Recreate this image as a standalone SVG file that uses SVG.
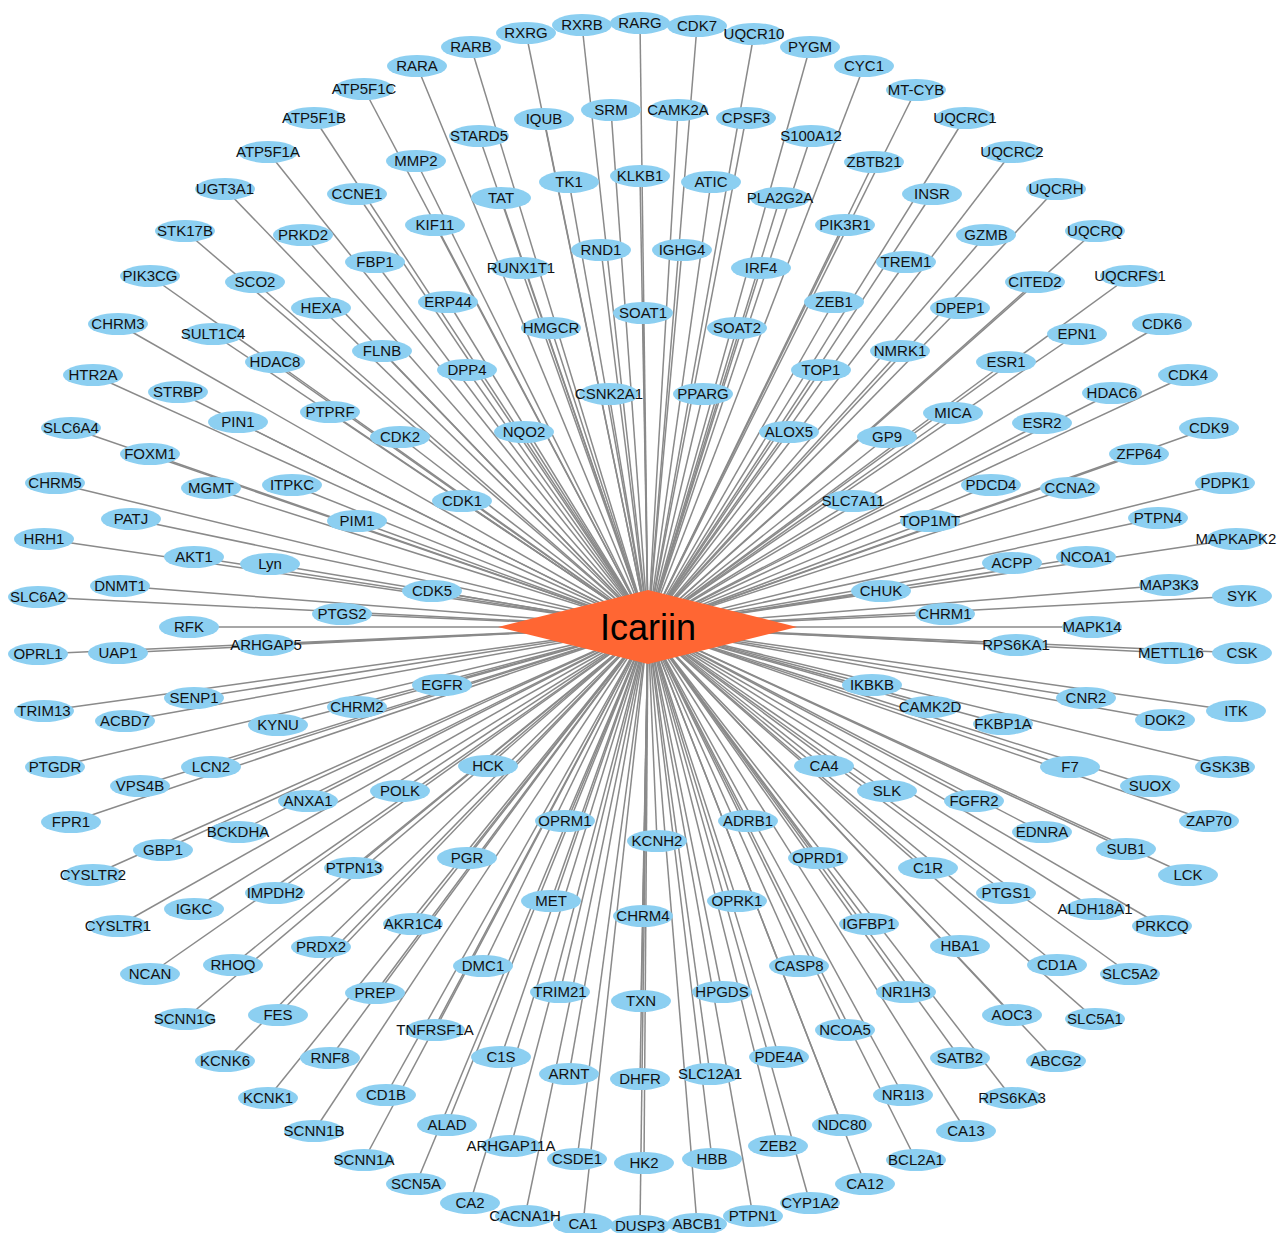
<svg xmlns="http://www.w3.org/2000/svg" width="1279" height="1233" viewBox="0 0 1279 1233">
<style>
.e line{stroke:#8a8a8a;stroke-width:1.5}
.n ellipse{fill:#8ccff1;rx:30px;ry:11px}
.n text{font-family:"Liberation Sans",Arial,sans-serif;font-size:15px;text-anchor:middle;fill:#111}
.hub text{font-family:"Liberation Sans",Arial,sans-serif;font-size:36px;text-anchor:middle;fill:#000}
</style>
<rect width="1279" height="1233" fill="#fff"/>
<g id="edges" class="e">
<line x1="648" y1="627" x2="417" y2="66"/><line x1="648" y1="627" x2="471" y2="47"/><line x1="648" y1="627" x2="526" y2="33"/><line x1="648" y1="627" x2="582" y2="25"/><line x1="648" y1="627" x2="640" y2="23"/><line x1="648" y1="627" x2="697" y2="26"/><line x1="648" y1="627" x2="754" y2="34"/><line x1="648" y1="627" x2="810" y2="47"/><line x1="648" y1="627" x2="864" y2="66"/><line x1="648" y1="627" x2="916" y2="90"/><line x1="648" y1="627" x2="965" y2="118"/><line x1="648" y1="627" x2="1012" y2="152"/><line x1="648" y1="627" x2="1056" y2="189"/><line x1="648" y1="627" x2="1095" y2="231"/><line x1="648" y1="627" x2="1130" y2="276"/><line x1="648" y1="627" x2="1162" y2="324"/><line x1="648" y1="627" x2="1188" y2="375"/><line x1="648" y1="627" x2="1209" y2="428"/><line x1="648" y1="627" x2="1225" y2="483"/><line x1="648" y1="627" x2="1236" y2="539"/><line x1="648" y1="627" x2="1242" y2="596"/><line x1="648" y1="627" x2="1242" y2="653"/><line x1="648" y1="627" x2="1236" y2="711"/><line x1="648" y1="627" x2="1225" y2="767"/><line x1="648" y1="627" x2="1209" y2="821"/><line x1="648" y1="627" x2="1188" y2="875"/><line x1="648" y1="627" x2="1162" y2="926"/><line x1="648" y1="627" x2="1130" y2="974"/><line x1="648" y1="627" x2="1095" y2="1019"/><line x1="648" y1="627" x2="1056" y2="1061"/><line x1="648" y1="627" x2="1012" y2="1098"/><line x1="648" y1="627" x2="966" y2="1131"/><line x1="648" y1="627" x2="916" y2="1160"/><line x1="648" y1="627" x2="865" y2="1184"/><line x1="648" y1="627" x2="810" y2="1203"/><line x1="648" y1="627" x2="753" y2="1216"/><line x1="648" y1="627" x2="697" y2="1224"/><line x1="648" y1="627" x2="640" y2="1226"/><line x1="648" y1="627" x2="583" y2="1224"/><line x1="648" y1="627" x2="525" y2="1216"/><line x1="648" y1="627" x2="470" y2="1203"/><line x1="648" y1="627" x2="416" y2="1184"/><line x1="648" y1="627" x2="364" y2="1160"/><line x1="648" y1="627" x2="314" y2="1131"/><line x1="648" y1="627" x2="268" y2="1098"/><line x1="648" y1="627" x2="225" y2="1061"/><line x1="648" y1="627" x2="185" y2="1019"/><line x1="648" y1="627" x2="150" y2="974"/><line x1="648" y1="627" x2="118" y2="926"/><line x1="648" y1="627" x2="93" y2="875"/><line x1="648" y1="627" x2="71" y2="822"/><line x1="648" y1="627" x2="55" y2="767"/><line x1="648" y1="627" x2="44" y2="711"/><line x1="648" y1="627" x2="38" y2="654"/><line x1="648" y1="627" x2="38" y2="597"/><line x1="648" y1="627" x2="44" y2="539"/><line x1="648" y1="627" x2="55" y2="483"/><line x1="648" y1="627" x2="71" y2="428"/><line x1="648" y1="627" x2="93" y2="375"/><line x1="648" y1="627" x2="118" y2="324"/><line x1="648" y1="627" x2="150" y2="276"/><line x1="648" y1="627" x2="185" y2="231"/><line x1="648" y1="627" x2="225" y2="189"/><line x1="648" y1="627" x2="268" y2="152"/><line x1="648" y1="627" x2="314" y2="118"/><line x1="648" y1="627" x2="364" y2="89"/>
<line x1="648" y1="627" x2="416" y2="161"/><line x1="648" y1="627" x2="357" y2="194"/><line x1="648" y1="627" x2="435" y2="225"/><line x1="648" y1="627" x2="303" y2="235"/><line x1="648" y1="627" x2="375" y2="262"/><line x1="648" y1="627" x2="255" y2="282"/><line x1="648" y1="627" x2="321" y2="308"/><line x1="648" y1="627" x2="448" y2="302"/><line x1="648" y1="627" x2="213" y2="334"/><line x1="648" y1="627" x2="382" y2="351"/><line x1="648" y1="627" x2="275" y2="362"/><line x1="648" y1="627" x2="467" y2="370"/><line x1="648" y1="627" x2="178" y2="392"/><line x1="648" y1="627" x2="330" y2="412"/><line x1="648" y1="627" x2="238" y2="422"/><line x1="648" y1="627" x2="400" y2="437"/><line x1="648" y1="627" x2="524" y2="432"/><line x1="648" y1="627" x2="150" y2="454"/><line x1="648" y1="627" x2="211" y2="488"/><line x1="648" y1="627" x2="292" y2="485"/><line x1="648" y1="627" x2="357" y2="521"/><line x1="648" y1="627" x2="462" y2="501"/><line x1="648" y1="627" x2="131" y2="519"/><line x1="648" y1="627" x2="194" y2="557"/><line x1="648" y1="627" x2="270" y2="564"/><line x1="648" y1="627" x2="120" y2="586"/><line x1="648" y1="627" x2="432" y2="591"/><line x1="648" y1="627" x2="342" y2="614"/><line x1="648" y1="627" x2="189" y2="627"/><line x1="648" y1="627" x2="266" y2="645"/><line x1="648" y1="627" x2="118" y2="653"/>
<line x1="648" y1="627" x2="479" y2="136"/><line x1="648" y1="627" x2="544" y2="119"/><line x1="648" y1="627" x2="611" y2="110"/><line x1="648" y1="627" x2="678" y2="110"/><line x1="648" y1="627" x2="746" y2="118"/><line x1="648" y1="627" x2="811" y2="136"/><line x1="648" y1="627" x2="501" y2="198"/><line x1="648" y1="627" x2="569" y2="182"/><line x1="648" y1="627" x2="640" y2="176"/><line x1="648" y1="627" x2="711" y2="182"/><line x1="648" y1="627" x2="780" y2="198"/><line x1="648" y1="627" x2="521" y2="268"/><line x1="648" y1="627" x2="601" y2="250"/><line x1="648" y1="627" x2="682" y2="250"/><line x1="648" y1="627" x2="761" y2="268"/><line x1="648" y1="627" x2="551" y2="328"/><line x1="648" y1="627" x2="643" y2="313"/><line x1="648" y1="627" x2="737" y2="328"/><line x1="648" y1="627" x2="609" y2="394"/><line x1="648" y1="627" x2="703" y2="394"/>
<line x1="648" y1="627" x2="874" y2="162"/><line x1="648" y1="627" x2="845" y2="225"/><line x1="648" y1="627" x2="932" y2="194"/><line x1="648" y1="627" x2="906" y2="262"/><line x1="648" y1="627" x2="986" y2="235"/><line x1="648" y1="627" x2="834" y2="302"/><line x1="648" y1="627" x2="960" y2="308"/><line x1="648" y1="627" x2="1035" y2="282"/><line x1="648" y1="627" x2="900" y2="351"/><line x1="648" y1="627" x2="821" y2="370"/><line x1="648" y1="627" x2="1077" y2="334"/><line x1="648" y1="627" x2="1006" y2="362"/><line x1="648" y1="627" x2="789" y2="432"/><line x1="648" y1="627" x2="953" y2="413"/><line x1="648" y1="627" x2="1112" y2="393"/><line x1="648" y1="627" x2="1042" y2="423"/><line x1="648" y1="627" x2="887" y2="437"/><line x1="648" y1="627" x2="1139" y2="454"/><line x1="648" y1="627" x2="853" y2="501"/><line x1="648" y1="627" x2="991" y2="485"/><line x1="648" y1="627" x2="1070" y2="488"/><line x1="648" y1="627" x2="930" y2="521"/><line x1="648" y1="627" x2="1158" y2="518"/><line x1="648" y1="627" x2="1012" y2="563"/><line x1="648" y1="627" x2="1086" y2="557"/><line x1="648" y1="627" x2="881" y2="591"/><line x1="648" y1="627" x2="1169" y2="585"/><line x1="648" y1="627" x2="945" y2="614"/><line x1="648" y1="627" x2="1092" y2="627"/><line x1="648" y1="627" x2="1016" y2="645"/><line x1="648" y1="627" x2="1171" y2="653"/>
<line x1="648" y1="627" x2="872" y2="685"/><line x1="648" y1="627" x2="1086" y2="698"/><line x1="648" y1="627" x2="930" y2="707"/><line x1="648" y1="627" x2="1003" y2="724"/><line x1="648" y1="627" x2="1165" y2="720"/><line x1="648" y1="627" x2="1070" y2="767"/><line x1="648" y1="627" x2="1150" y2="786"/><line x1="648" y1="627" x2="824" y2="766"/><line x1="648" y1="627" x2="887" y2="791"/><line x1="648" y1="627" x2="974" y2="801"/><line x1="648" y1="627" x2="1042" y2="832"/><line x1="648" y1="627" x2="1126" y2="849"/><line x1="648" y1="627" x2="748" y2="821"/><line x1="648" y1="627" x2="818" y2="858"/><line x1="648" y1="627" x2="928" y2="868"/><line x1="648" y1="627" x2="1006" y2="893"/><line x1="648" y1="627" x2="1095" y2="909"/><line x1="648" y1="627" x2="869" y2="924"/><line x1="648" y1="627" x2="960" y2="946"/><line x1="648" y1="627" x2="1057" y2="965"/><line x1="648" y1="627" x2="906" y2="992"/><line x1="648" y1="627" x2="1012" y2="1015"/><line x1="648" y1="627" x2="737" y2="901"/><line x1="648" y1="627" x2="799" y2="966"/><line x1="648" y1="627" x2="845" y2="1030"/><line x1="648" y1="627" x2="960" y2="1058"/><line x1="648" y1="627" x2="903" y2="1095"/><line x1="648" y1="627" x2="842" y2="1125"/><line x1="648" y1="627" x2="779" y2="1057"/><line x1="648" y1="627" x2="778" y2="1146"/><line x1="648" y1="627" x2="712" y2="1159"/><line x1="648" y1="627" x2="722" y2="992"/><line x1="648" y1="627" x2="710" y2="1074"/>
<line x1="648" y1="627" x2="657" y2="841"/><line x1="648" y1="627" x2="565" y2="821"/><line x1="648" y1="627" x2="467" y2="858"/><line x1="648" y1="627" x2="551" y2="901"/><line x1="648" y1="627" x2="643" y2="916"/><line x1="648" y1="627" x2="483" y2="966"/><line x1="648" y1="627" x2="560" y2="992"/><line x1="648" y1="627" x2="641" y2="1001"/><line x1="648" y1="627" x2="501" y2="1057"/><line x1="648" y1="627" x2="569" y2="1074"/><line x1="648" y1="627" x2="640" y2="1079"/><line x1="648" y1="627" x2="447" y2="1125"/><line x1="648" y1="627" x2="511" y2="1146"/><line x1="648" y1="627" x2="577" y2="1159"/><line x1="648" y1="627" x2="644" y2="1163"/><line x1="648" y1="627" x2="435" y2="1030"/>
<line x1="648" y1="627" x2="442" y2="685"/><line x1="648" y1="627" x2="194" y2="698"/><line x1="648" y1="627" x2="357" y2="707"/><line x1="648" y1="627" x2="125" y2="721"/><line x1="648" y1="627" x2="278" y2="725"/><line x1="648" y1="627" x2="211" y2="767"/><line x1="648" y1="627" x2="140" y2="786"/><line x1="648" y1="627" x2="488" y2="766"/><line x1="648" y1="627" x2="308" y2="801"/><line x1="648" y1="627" x2="400" y2="791"/><line x1="648" y1="627" x2="238" y2="832"/><line x1="648" y1="627" x2="163" y2="850"/><line x1="648" y1="627" x2="354" y2="868"/><line x1="648" y1="627" x2="275" y2="893"/><line x1="648" y1="627" x2="194" y2="909"/><line x1="648" y1="627" x2="413" y2="924"/><line x1="648" y1="627" x2="321" y2="947"/><line x1="648" y1="627" x2="233" y2="965"/><line x1="648" y1="627" x2="375" y2="993"/><line x1="648" y1="627" x2="278" y2="1015"/><line x1="648" y1="627" x2="330" y2="1058"/><line x1="648" y1="627" x2="386" y2="1095"/>
</g>
<g id="nodes">
<g id="n-RARA" class="n"><ellipse cx="417" cy="66"/><text x="417" y="71">RARA</text></g>
<g id="n-RARB" class="n"><ellipse cx="471" cy="47"/><text x="471" y="52">RARB</text></g>
<g id="n-RXRG" class="n"><ellipse cx="526" cy="33"/><text x="526" y="38">RXRG</text></g>
<g id="n-RXRB" class="n"><ellipse cx="582" cy="25"/><text x="582" y="30">RXRB</text></g>
<g id="n-RARG" class="n"><ellipse cx="640" cy="23"/><text x="640" y="28">RARG</text></g>
<g id="n-CDK7" class="n"><ellipse cx="697" cy="26"/><text x="697" y="31">CDK7</text></g>
<g id="n-UQCR10" class="n"><ellipse cx="754" cy="34"/><text x="754" y="39">UQCR10</text></g>
<g id="n-PYGM" class="n"><ellipse cx="810" cy="47"/><text x="810" y="52">PYGM</text></g>
<g id="n-CYC1" class="n"><ellipse cx="864" cy="66"/><text x="864" y="71">CYC1</text></g>
<g id="n-MT-CYB" class="n"><ellipse cx="916" cy="90"/><text x="916" y="95">MT-CYB</text></g>
<g id="n-UQCRC1" class="n"><ellipse cx="965" cy="118"/><text x="965" y="123">UQCRC1</text></g>
<g id="n-UQCRC2" class="n"><ellipse cx="1012" cy="152"/><text x="1012" y="157">UQCRC2</text></g>
<g id="n-UQCRH" class="n"><ellipse cx="1056" cy="189"/><text x="1056" y="194">UQCRH</text></g>
<g id="n-UQCRQ" class="n"><ellipse cx="1095" cy="231"/><text x="1095" y="236">UQCRQ</text></g>
<g id="n-UQCRFS1" class="n"><ellipse cx="1130" cy="276"/><text x="1130" y="281">UQCRFS1</text></g>
<g id="n-CDK6" class="n"><ellipse cx="1162" cy="324"/><text x="1162" y="329">CDK6</text></g>
<g id="n-CDK4" class="n"><ellipse cx="1188" cy="375"/><text x="1188" y="380">CDK4</text></g>
<g id="n-CDK9" class="n"><ellipse cx="1209" cy="428"/><text x="1209" y="433">CDK9</text></g>
<g id="n-PDPK1" class="n"><ellipse cx="1225" cy="483"/><text x="1225" y="488">PDPK1</text></g>
<g id="n-MAPKAPK2" class="n"><ellipse cx="1236" cy="539"/><text x="1236" y="544">MAPKAPK2</text></g>
<g id="n-SYK" class="n"><ellipse cx="1242" cy="596"/><text x="1242" y="601">SYK</text></g>
<g id="n-CSK" class="n"><ellipse cx="1242" cy="653"/><text x="1242" y="658">CSK</text></g>
<g id="n-ITK" class="n"><ellipse cx="1236" cy="711"/><text x="1236" y="716">ITK</text></g>
<g id="n-GSK3B" class="n"><ellipse cx="1225" cy="767"/><text x="1225" y="772">GSK3B</text></g>
<g id="n-ZAP70" class="n"><ellipse cx="1209" cy="821"/><text x="1209" y="826">ZAP70</text></g>
<g id="n-LCK" class="n"><ellipse cx="1188" cy="875"/><text x="1188" y="880">LCK</text></g>
<g id="n-PRKCQ" class="n"><ellipse cx="1162" cy="926"/><text x="1162" y="931">PRKCQ</text></g>
<g id="n-SLC5A2" class="n"><ellipse cx="1130" cy="974"/><text x="1130" y="979">SLC5A2</text></g>
<g id="n-SLC5A1" class="n"><ellipse cx="1095" cy="1019"/><text x="1095" y="1024">SLC5A1</text></g>
<g id="n-ABCG2" class="n"><ellipse cx="1056" cy="1061"/><text x="1056" y="1066">ABCG2</text></g>
<g id="n-RPS6KA3" class="n"><ellipse cx="1012" cy="1098"/><text x="1012" y="1103">RPS6KA3</text></g>
<g id="n-CA13" class="n"><ellipse cx="966" cy="1131"/><text x="966" y="1136">CA13</text></g>
<g id="n-BCL2A1" class="n"><ellipse cx="916" cy="1160"/><text x="916" y="1165">BCL2A1</text></g>
<g id="n-CA12" class="n"><ellipse cx="865" cy="1184"/><text x="865" y="1189">CA12</text></g>
<g id="n-CYP1A2" class="n"><ellipse cx="810" cy="1203"/><text x="810" y="1208">CYP1A2</text></g>
<g id="n-PTPN1" class="n"><ellipse cx="753" cy="1216"/><text x="753" y="1221">PTPN1</text></g>
<g id="n-ABCB1" class="n"><ellipse cx="697" cy="1224"/><text x="697" y="1229">ABCB1</text></g>
<g id="n-DUSP3" class="n"><ellipse cx="640" cy="1226"/><text x="640" y="1231">DUSP3</text></g>
<g id="n-CA1" class="n"><ellipse cx="583" cy="1224"/><text x="583" y="1229">CA1</text></g>
<g id="n-CACNA1H" class="n"><ellipse cx="525" cy="1216"/><text x="525" y="1221">CACNA1H</text></g>
<g id="n-CA2" class="n"><ellipse cx="470" cy="1203"/><text x="470" y="1208">CA2</text></g>
<g id="n-SCN5A" class="n"><ellipse cx="416" cy="1184"/><text x="416" y="1189">SCN5A</text></g>
<g id="n-SCNN1A" class="n"><ellipse cx="364" cy="1160"/><text x="364" y="1165">SCNN1A</text></g>
<g id="n-SCNN1B" class="n"><ellipse cx="314" cy="1131"/><text x="314" y="1136">SCNN1B</text></g>
<g id="n-KCNK1" class="n"><ellipse cx="268" cy="1098"/><text x="268" y="1103">KCNK1</text></g>
<g id="n-KCNK6" class="n"><ellipse cx="225" cy="1061"/><text x="225" y="1066">KCNK6</text></g>
<g id="n-SCNN1G" class="n"><ellipse cx="185" cy="1019"/><text x="185" y="1024">SCNN1G</text></g>
<g id="n-NCAN" class="n"><ellipse cx="150" cy="974"/><text x="150" y="979">NCAN</text></g>
<g id="n-CYSLTR1" class="n"><ellipse cx="118" cy="926"/><text x="118" y="931">CYSLTR1</text></g>
<g id="n-CYSLTR2" class="n"><ellipse cx="93" cy="875"/><text x="93" y="880">CYSLTR2</text></g>
<g id="n-FPR1" class="n"><ellipse cx="71" cy="822"/><text x="71" y="827">FPR1</text></g>
<g id="n-PTGDR" class="n"><ellipse cx="55" cy="767"/><text x="55" y="772">PTGDR</text></g>
<g id="n-TRIM13" class="n"><ellipse cx="44" cy="711"/><text x="44" y="716">TRIM13</text></g>
<g id="n-OPRL1" class="n"><ellipse cx="38" cy="654"/><text x="38" y="659">OPRL1</text></g>
<g id="n-SLC6A2" class="n"><ellipse cx="38" cy="597"/><text x="38" y="602">SLC6A2</text></g>
<g id="n-HRH1" class="n"><ellipse cx="44" cy="539"/><text x="44" y="544">HRH1</text></g>
<g id="n-CHRM5" class="n"><ellipse cx="55" cy="483"/><text x="55" y="488">CHRM5</text></g>
<g id="n-SLC6A4" class="n"><ellipse cx="71" cy="428"/><text x="71" y="433">SLC6A4</text></g>
<g id="n-HTR2A" class="n"><ellipse cx="93" cy="375"/><text x="93" y="380">HTR2A</text></g>
<g id="n-CHRM3" class="n"><ellipse cx="118" cy="324"/><text x="118" y="329">CHRM3</text></g>
<g id="n-PIK3CG" class="n"><ellipse cx="150" cy="276"/><text x="150" y="281">PIK3CG</text></g>
<g id="n-STK17B" class="n"><ellipse cx="185" cy="231"/><text x="185" y="236">STK17B</text></g>
<g id="n-UGT3A1" class="n"><ellipse cx="225" cy="189"/><text x="225" y="194">UGT3A1</text></g>
<g id="n-ATP5F1A" class="n"><ellipse cx="268" cy="152"/><text x="268" y="157">ATP5F1A</text></g>
<g id="n-ATP5F1B" class="n"><ellipse cx="314" cy="118"/><text x="314" y="123">ATP5F1B</text></g>
<g id="n-ATP5F1C" class="n"><ellipse cx="364" cy="89"/><text x="364" y="94">ATP5F1C</text></g>
<g id="n-MMP2" class="n"><ellipse cx="416" cy="161"/><text x="416" y="166">MMP2</text></g>
<g id="n-CCNE1" class="n"><ellipse cx="357" cy="194"/><text x="357" y="199">CCNE1</text></g>
<g id="n-KIF11" class="n"><ellipse cx="435" cy="225"/><text x="435" y="230">KIF11</text></g>
<g id="n-PRKD2" class="n"><ellipse cx="303" cy="235"/><text x="303" y="240">PRKD2</text></g>
<g id="n-FBP1" class="n"><ellipse cx="375" cy="262"/><text x="375" y="267">FBP1</text></g>
<g id="n-SCO2" class="n"><ellipse cx="255" cy="282"/><text x="255" y="287">SCO2</text></g>
<g id="n-HEXA" class="n"><ellipse cx="321" cy="308"/><text x="321" y="313">HEXA</text></g>
<g id="n-ERP44" class="n"><ellipse cx="448" cy="302"/><text x="448" y="307">ERP44</text></g>
<g id="n-SULT1C4" class="n"><ellipse cx="213" cy="334"/><text x="213" y="339">SULT1C4</text></g>
<g id="n-FLNB" class="n"><ellipse cx="382" cy="351"/><text x="382" y="356">FLNB</text></g>
<g id="n-HDAC8" class="n"><ellipse cx="275" cy="362"/><text x="275" y="367">HDAC8</text></g>
<g id="n-DPP4" class="n"><ellipse cx="467" cy="370"/><text x="467" y="375">DPP4</text></g>
<g id="n-STRBP" class="n"><ellipse cx="178" cy="392"/><text x="178" y="397">STRBP</text></g>
<g id="n-PTPRF" class="n"><ellipse cx="330" cy="412"/><text x="330" y="417">PTPRF</text></g>
<g id="n-PIN1" class="n"><ellipse cx="238" cy="422"/><text x="238" y="427">PIN1</text></g>
<g id="n-CDK2" class="n"><ellipse cx="400" cy="437"/><text x="400" y="442">CDK2</text></g>
<g id="n-NQO2" class="n"><ellipse cx="524" cy="432"/><text x="524" y="437">NQO2</text></g>
<g id="n-FOXM1" class="n"><ellipse cx="150" cy="454"/><text x="150" y="459">FOXM1</text></g>
<g id="n-MGMT" class="n"><ellipse cx="211" cy="488"/><text x="211" y="493">MGMT</text></g>
<g id="n-ITPKC" class="n"><ellipse cx="292" cy="485"/><text x="292" y="490">ITPKC</text></g>
<g id="n-PIM1" class="n"><ellipse cx="357" cy="521"/><text x="357" y="526">PIM1</text></g>
<g id="n-CDK1" class="n"><ellipse cx="462" cy="501"/><text x="462" y="506">CDK1</text></g>
<g id="n-PATJ" class="n"><ellipse cx="131" cy="519"/><text x="131" y="524">PATJ</text></g>
<g id="n-AKT1" class="n"><ellipse cx="194" cy="557"/><text x="194" y="562">AKT1</text></g>
<g id="n-Lyn" class="n"><ellipse cx="270" cy="564"/><text x="270" y="569">Lyn</text></g>
<g id="n-DNMT1" class="n"><ellipse cx="120" cy="586"/><text x="120" y="591">DNMT1</text></g>
<g id="n-CDK5" class="n"><ellipse cx="432" cy="591"/><text x="432" y="596">CDK5</text></g>
<g id="n-PTGS2" class="n"><ellipse cx="342" cy="614"/><text x="342" y="619">PTGS2</text></g>
<g id="n-RFK" class="n"><ellipse cx="189" cy="627"/><text x="189" y="632">RFK</text></g>
<g id="n-ARHGAP5" class="n"><ellipse cx="266" cy="645"/><text x="266" y="650">ARHGAP5</text></g>
<g id="n-UAP1" class="n"><ellipse cx="118" cy="653"/><text x="118" y="658">UAP1</text></g>
<g id="n-STARD5" class="n"><ellipse cx="479" cy="136"/><text x="479" y="141">STARD5</text></g>
<g id="n-IQUB" class="n"><ellipse cx="544" cy="119"/><text x="544" y="124">IQUB</text></g>
<g id="n-SRM" class="n"><ellipse cx="611" cy="110"/><text x="611" y="115">SRM</text></g>
<g id="n-CAMK2A" class="n"><ellipse cx="678" cy="110"/><text x="678" y="115">CAMK2A</text></g>
<g id="n-CPSF3" class="n"><ellipse cx="746" cy="118"/><text x="746" y="123">CPSF3</text></g>
<g id="n-S100A12" class="n"><ellipse cx="811" cy="136"/><text x="811" y="141">S100A12</text></g>
<g id="n-TAT" class="n"><ellipse cx="501" cy="198"/><text x="501" y="203">TAT</text></g>
<g id="n-TK1" class="n"><ellipse cx="569" cy="182"/><text x="569" y="187">TK1</text></g>
<g id="n-KLKB1" class="n"><ellipse cx="640" cy="176"/><text x="640" y="181">KLKB1</text></g>
<g id="n-ATIC" class="n"><ellipse cx="711" cy="182"/><text x="711" y="187">ATIC</text></g>
<g id="n-PLA2G2A" class="n"><ellipse cx="780" cy="198"/><text x="780" y="203">PLA2G2A</text></g>
<g id="n-RUNX1T1" class="n"><ellipse cx="521" cy="268"/><text x="521" y="273">RUNX1T1</text></g>
<g id="n-RND1" class="n"><ellipse cx="601" cy="250"/><text x="601" y="255">RND1</text></g>
<g id="n-IGHG4" class="n"><ellipse cx="682" cy="250"/><text x="682" y="255">IGHG4</text></g>
<g id="n-IRF4" class="n"><ellipse cx="761" cy="268"/><text x="761" y="273">IRF4</text></g>
<g id="n-HMGCR" class="n"><ellipse cx="551" cy="328"/><text x="551" y="333">HMGCR</text></g>
<g id="n-SOAT1" class="n"><ellipse cx="643" cy="313"/><text x="643" y="318">SOAT1</text></g>
<g id="n-SOAT2" class="n"><ellipse cx="737" cy="328"/><text x="737" y="333">SOAT2</text></g>
<g id="n-CSNK2A1" class="n"><ellipse cx="609" cy="394"/><text x="609" y="399">CSNK2A1</text></g>
<g id="n-PPARG" class="n"><ellipse cx="703" cy="394"/><text x="703" y="399">PPARG</text></g>
<g id="n-ZBTB21" class="n"><ellipse cx="874" cy="162"/><text x="874" y="167">ZBTB21</text></g>
<g id="n-PIK3R1" class="n"><ellipse cx="845" cy="225"/><text x="845" y="230">PIK3R1</text></g>
<g id="n-INSR" class="n"><ellipse cx="932" cy="194"/><text x="932" y="199">INSR</text></g>
<g id="n-TREM1" class="n"><ellipse cx="906" cy="262"/><text x="906" y="267">TREM1</text></g>
<g id="n-GZMB" class="n"><ellipse cx="986" cy="235"/><text x="986" y="240">GZMB</text></g>
<g id="n-ZEB1" class="n"><ellipse cx="834" cy="302"/><text x="834" y="307">ZEB1</text></g>
<g id="n-DPEP1" class="n"><ellipse cx="960" cy="308"/><text x="960" y="313">DPEP1</text></g>
<g id="n-CITED2" class="n"><ellipse cx="1035" cy="282"/><text x="1035" y="287">CITED2</text></g>
<g id="n-NMRK1" class="n"><ellipse cx="900" cy="351"/><text x="900" y="356">NMRK1</text></g>
<g id="n-TOP1" class="n"><ellipse cx="821" cy="370"/><text x="821" y="375">TOP1</text></g>
<g id="n-EPN1" class="n"><ellipse cx="1077" cy="334"/><text x="1077" y="339">EPN1</text></g>
<g id="n-ESR1" class="n"><ellipse cx="1006" cy="362"/><text x="1006" y="367">ESR1</text></g>
<g id="n-ALOX5" class="n"><ellipse cx="789" cy="432"/><text x="789" y="437">ALOX5</text></g>
<g id="n-MICA" class="n"><ellipse cx="953" cy="413"/><text x="953" y="418">MICA</text></g>
<g id="n-HDAC6" class="n"><ellipse cx="1112" cy="393"/><text x="1112" y="398">HDAC6</text></g>
<g id="n-ESR2" class="n"><ellipse cx="1042" cy="423"/><text x="1042" y="428">ESR2</text></g>
<g id="n-GP9" class="n"><ellipse cx="887" cy="437"/><text x="887" y="442">GP9</text></g>
<g id="n-ZFP64" class="n"><ellipse cx="1139" cy="454"/><text x="1139" y="459">ZFP64</text></g>
<g id="n-SLC7A11" class="n"><ellipse cx="853" cy="501"/><text x="853" y="506">SLC7A11</text></g>
<g id="n-PDCD4" class="n"><ellipse cx="991" cy="485"/><text x="991" y="490">PDCD4</text></g>
<g id="n-CCNA2" class="n"><ellipse cx="1070" cy="488"/><text x="1070" y="493">CCNA2</text></g>
<g id="n-TOP1MT" class="n"><ellipse cx="930" cy="521"/><text x="930" y="526">TOP1MT</text></g>
<g id="n-PTPN4" class="n"><ellipse cx="1158" cy="518"/><text x="1158" y="523">PTPN4</text></g>
<g id="n-ACPP" class="n"><ellipse cx="1012" cy="563"/><text x="1012" y="568">ACPP</text></g>
<g id="n-NCOA1" class="n"><ellipse cx="1086" cy="557"/><text x="1086" y="562">NCOA1</text></g>
<g id="n-CHUK" class="n"><ellipse cx="881" cy="591"/><text x="881" y="596">CHUK</text></g>
<g id="n-MAP3K3" class="n"><ellipse cx="1169" cy="585"/><text x="1169" y="590">MAP3K3</text></g>
<g id="n-CHRM1" class="n"><ellipse cx="945" cy="614"/><text x="945" y="619">CHRM1</text></g>
<g id="n-MAPK14" class="n"><ellipse cx="1092" cy="627"/><text x="1092" y="632">MAPK14</text></g>
<g id="n-RPS6KA1" class="n"><ellipse cx="1016" cy="645"/><text x="1016" y="650">RPS6KA1</text></g>
<g id="n-METTL16" class="n"><ellipse cx="1171" cy="653"/><text x="1171" y="658">METTL16</text></g>
<g id="n-IKBKB" class="n"><ellipse cx="872" cy="685"/><text x="872" y="690">IKBKB</text></g>
<g id="n-CNR2" class="n"><ellipse cx="1086" cy="698"/><text x="1086" y="703">CNR2</text></g>
<g id="n-CAMK2D" class="n"><ellipse cx="930" cy="707"/><text x="930" y="712">CAMK2D</text></g>
<g id="n-FKBP1A" class="n"><ellipse cx="1003" cy="724"/><text x="1003" y="729">FKBP1A</text></g>
<g id="n-DOK2" class="n"><ellipse cx="1165" cy="720"/><text x="1165" y="725">DOK2</text></g>
<g id="n-F7" class="n"><ellipse cx="1070" cy="767"/><text x="1070" y="772">F7</text></g>
<g id="n-SUOX" class="n"><ellipse cx="1150" cy="786"/><text x="1150" y="791">SUOX</text></g>
<g id="n-CA4" class="n"><ellipse cx="824" cy="766"/><text x="824" y="771">CA4</text></g>
<g id="n-SLK" class="n"><ellipse cx="887" cy="791"/><text x="887" y="796">SLK</text></g>
<g id="n-FGFR2" class="n"><ellipse cx="974" cy="801"/><text x="974" y="806">FGFR2</text></g>
<g id="n-EDNRA" class="n"><ellipse cx="1042" cy="832"/><text x="1042" y="837">EDNRA</text></g>
<g id="n-SUB1" class="n"><ellipse cx="1126" cy="849"/><text x="1126" y="854">SUB1</text></g>
<g id="n-ADRB1" class="n"><ellipse cx="748" cy="821"/><text x="748" y="826">ADRB1</text></g>
<g id="n-OPRD1" class="n"><ellipse cx="818" cy="858"/><text x="818" y="863">OPRD1</text></g>
<g id="n-C1R" class="n"><ellipse cx="928" cy="868"/><text x="928" y="873">C1R</text></g>
<g id="n-PTGS1" class="n"><ellipse cx="1006" cy="893"/><text x="1006" y="898">PTGS1</text></g>
<g id="n-ALDH18A1" class="n"><ellipse cx="1095" cy="909"/><text x="1095" y="914">ALDH18A1</text></g>
<g id="n-IGFBP1" class="n"><ellipse cx="869" cy="924"/><text x="869" y="929">IGFBP1</text></g>
<g id="n-HBA1" class="n"><ellipse cx="960" cy="946"/><text x="960" y="951">HBA1</text></g>
<g id="n-CD1A" class="n"><ellipse cx="1057" cy="965"/><text x="1057" y="970">CD1A</text></g>
<g id="n-NR1H3" class="n"><ellipse cx="906" cy="992"/><text x="906" y="997">NR1H3</text></g>
<g id="n-AOC3" class="n"><ellipse cx="1012" cy="1015"/><text x="1012" y="1020">AOC3</text></g>
<g id="n-OPRK1" class="n"><ellipse cx="737" cy="901"/><text x="737" y="906">OPRK1</text></g>
<g id="n-CASP8" class="n"><ellipse cx="799" cy="966"/><text x="799" y="971">CASP8</text></g>
<g id="n-NCOA5" class="n"><ellipse cx="845" cy="1030"/><text x="845" y="1035">NCOA5</text></g>
<g id="n-SATB2" class="n"><ellipse cx="960" cy="1058"/><text x="960" y="1063">SATB2</text></g>
<g id="n-NR1I3" class="n"><ellipse cx="903" cy="1095"/><text x="903" y="1100">NR1I3</text></g>
<g id="n-NDC80" class="n"><ellipse cx="842" cy="1125"/><text x="842" y="1130">NDC80</text></g>
<g id="n-PDE4A" class="n"><ellipse cx="779" cy="1057"/><text x="779" y="1062">PDE4A</text></g>
<g id="n-ZEB2" class="n"><ellipse cx="778" cy="1146"/><text x="778" y="1151">ZEB2</text></g>
<g id="n-HBB" class="n"><ellipse cx="712" cy="1159"/><text x="712" y="1164">HBB</text></g>
<g id="n-HPGDS" class="n"><ellipse cx="722" cy="992"/><text x="722" y="997">HPGDS</text></g>
<g id="n-SLC12A1" class="n"><ellipse cx="710" cy="1074"/><text x="710" y="1079">SLC12A1</text></g>
<g id="n-KCNH2" class="n"><ellipse cx="657" cy="841"/><text x="657" y="846">KCNH2</text></g>
<g id="n-OPRM1" class="n"><ellipse cx="565" cy="821"/><text x="565" y="826">OPRM1</text></g>
<g id="n-PGR" class="n"><ellipse cx="467" cy="858"/><text x="467" y="863">PGR</text></g>
<g id="n-MET" class="n"><ellipse cx="551" cy="901"/><text x="551" y="906">MET</text></g>
<g id="n-CHRM4" class="n"><ellipse cx="643" cy="916"/><text x="643" y="921">CHRM4</text></g>
<g id="n-DMC1" class="n"><ellipse cx="483" cy="966"/><text x="483" y="971">DMC1</text></g>
<g id="n-TRIM21" class="n"><ellipse cx="560" cy="992"/><text x="560" y="997">TRIM21</text></g>
<g id="n-TXN" class="n"><ellipse cx="641" cy="1001"/><text x="641" y="1006">TXN</text></g>
<g id="n-C1S" class="n"><ellipse cx="501" cy="1057"/><text x="501" y="1062">C1S</text></g>
<g id="n-ARNT" class="n"><ellipse cx="569" cy="1074"/><text x="569" y="1079">ARNT</text></g>
<g id="n-DHFR" class="n"><ellipse cx="640" cy="1079"/><text x="640" y="1084">DHFR</text></g>
<g id="n-ALAD" class="n"><ellipse cx="447" cy="1125"/><text x="447" y="1130">ALAD</text></g>
<g id="n-ARHGAP11A" class="n"><ellipse cx="511" cy="1146"/><text x="511" y="1151">ARHGAP11A</text></g>
<g id="n-CSDE1" class="n"><ellipse cx="577" cy="1159"/><text x="577" y="1164">CSDE1</text></g>
<g id="n-HK2" class="n"><ellipse cx="644" cy="1163"/><text x="644" y="1168">HK2</text></g>
<g id="n-TNFRSF1A" class="n"><ellipse cx="435" cy="1030"/><text x="435" y="1035">TNFRSF1A</text></g>
<g id="n-EGFR" class="n"><ellipse cx="442" cy="685"/><text x="442" y="690">EGFR</text></g>
<g id="n-SENP1" class="n"><ellipse cx="194" cy="698"/><text x="194" y="703">SENP1</text></g>
<g id="n-CHRM2" class="n"><ellipse cx="357" cy="707"/><text x="357" y="712">CHRM2</text></g>
<g id="n-ACBD7" class="n"><ellipse cx="125" cy="721"/><text x="125" y="726">ACBD7</text></g>
<g id="n-KYNU" class="n"><ellipse cx="278" cy="725"/><text x="278" y="730">KYNU</text></g>
<g id="n-LCN2" class="n"><ellipse cx="211" cy="767"/><text x="211" y="772">LCN2</text></g>
<g id="n-VPS4B" class="n"><ellipse cx="140" cy="786"/><text x="140" y="791">VPS4B</text></g>
<g id="n-HCK" class="n"><ellipse cx="488" cy="766"/><text x="488" y="771">HCK</text></g>
<g id="n-ANXA1" class="n"><ellipse cx="308" cy="801"/><text x="308" y="806">ANXA1</text></g>
<g id="n-POLK" class="n"><ellipse cx="400" cy="791"/><text x="400" y="796">POLK</text></g>
<g id="n-BCKDHA" class="n"><ellipse cx="238" cy="832"/><text x="238" y="837">BCKDHA</text></g>
<g id="n-GBP1" class="n"><ellipse cx="163" cy="850"/><text x="163" y="855">GBP1</text></g>
<g id="n-PTPN13" class="n"><ellipse cx="354" cy="868"/><text x="354" y="873">PTPN13</text></g>
<g id="n-IMPDH2" class="n"><ellipse cx="275" cy="893"/><text x="275" y="898">IMPDH2</text></g>
<g id="n-IGKC" class="n"><ellipse cx="194" cy="909"/><text x="194" y="914">IGKC</text></g>
<g id="n-AKR1C4" class="n"><ellipse cx="413" cy="924"/><text x="413" y="929">AKR1C4</text></g>
<g id="n-PRDX2" class="n"><ellipse cx="321" cy="947"/><text x="321" y="952">PRDX2</text></g>
<g id="n-RHOQ" class="n"><ellipse cx="233" cy="965"/><text x="233" y="970">RHOQ</text></g>
<g id="n-PREP" class="n"><ellipse cx="375" cy="993"/><text x="375" y="998">PREP</text></g>
<g id="n-FES" class="n"><ellipse cx="278" cy="1015"/><text x="278" y="1020">FES</text></g>
<g id="n-RNF8" class="n"><ellipse cx="330" cy="1058"/><text x="330" y="1063">RNF8</text></g>
<g id="n-CD1B" class="n"><ellipse cx="386" cy="1095"/><text x="386" y="1100">CD1B</text></g>
<g id="n-Icariin" class="hub"><polygon points="498,627 648,590 797,627 648,664" fill="#ff6633"/><text x="648" y="640">Icariin</text></g>
</g>
</svg>
